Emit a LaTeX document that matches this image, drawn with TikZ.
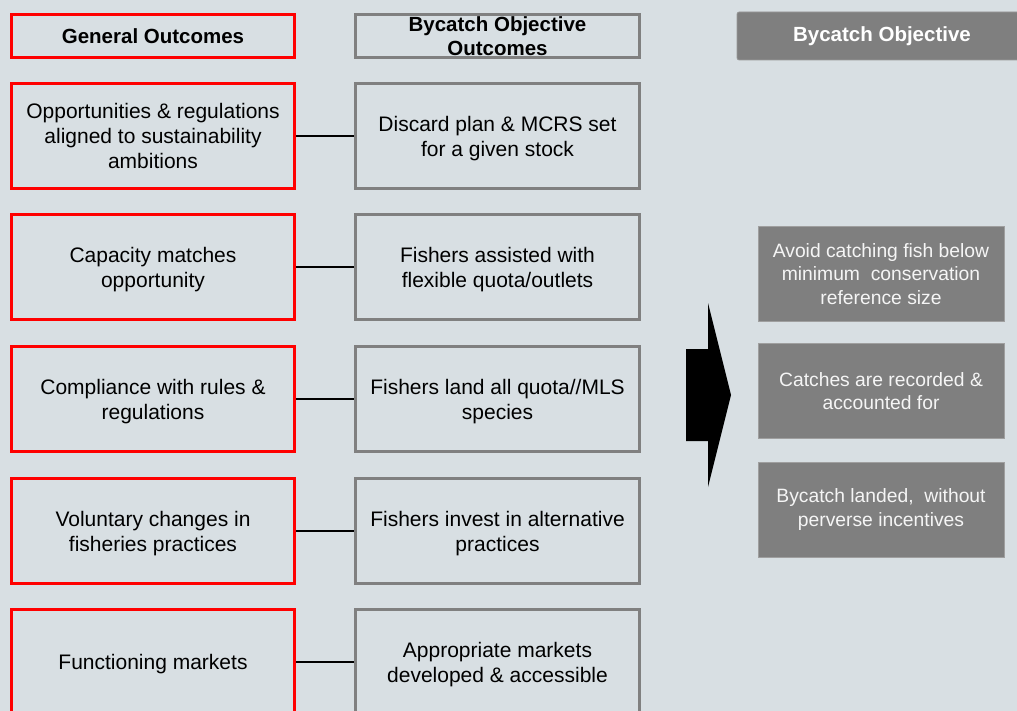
\documentclass[tikz,border=0pt]{standalone}
\usepackage{fontspec}
\setmainfont{Liberation Sans}
\definecolor{bgpanel}{RGB}{216,223,227}
\definecolor{outred}{RGB}{255,0,0}
\definecolor{outgrey}{RGB}{128,128,128}
\definecolor{objfill}{RGB}{127,127,127}
\definecolor{objtext}{RGB}{245,245,245}
\begin{document}
\begin{tikzpicture}[x=1pt,y=-1pt,
  framed/.style={align=center, text=black, line width=3pt, minimum height=105pt, inner sep=0pt},
  genframe/.style={framed, draw=outred, minimum width=283pt},
  objframe/.style={framed, draw=outgrey, minimum width=284pt},
  rowtext/.style={font=\fontsize{21}{25}\selectfont, text depth=0pt},
  headtext/.style={minimum height=43pt, font=\fontsize{20.5}{24}\selectfont\bfseries},
  genbox/.style={genframe, rowtext},
  objbox/.style={objframe, rowtext},
  genhead/.style={genframe, headtext},
  objhead/.style={objframe, headtext},
  tophead/.style={fill=objfill, draw=objfill!80!white, line width=0.6pt, rounded corners=2pt, minimum width=290pt, minimum height=48pt, text=white, font=\fontsize{20.5}{24}\selectfont\bfseries, inner sep=0pt},
  resultbox/.style={fill=objfill, draw=objfill!75!white, line width=0.6pt, minimum width=246pt, minimum height=95pt, text=objtext, align=center, font=\fontsize{19.3}{23.5}\selectfont, inner sep=0pt},
  link/.style={draw=black, line width=1.5pt}]
  \useasboundingbox (0,0) rectangle (1017,711);
  \fill[bgpanel] (0,0) rectangle (1017,711);

  % column headers
  \node[genhead] (genH) at (153,36.5) {General Outcomes};
  \node[objhead] (objH) at (497.5,36) {Bycatch Objective\\Outcomes};
  \node[tophead] (topH) at (882,36) {Bycatch Objective};

  % general outcomes
  \node[genbox] (g1) at (153,136) {Opportunities \& regulations\\aligned to sustainability\\ambitions};
  \node[genbox] (g2) at (153,267) {Capacity matches\\opportunity};
  \node[genbox] (g3) at (153,399) {Compliance with rules \&\\regulations};
  \node[genbox] (g4) at (153,531) {Voluntary changes in\\fisheries practices};
  \node[genbox] (g5) at (153,662) {Functioning markets};

  % bycatch objective outcomes
  \node[objbox] (o1) at (497.5,136) {Discard plan \& MCRS set\\for a given stock};
  \node[objbox] (o2) at (497.5,267) {Fishers assisted with\\flexible quota/outlets};
  \node[objbox] (o3) at (497.5,399) {Fishers land all quota//MLS\\species};
  \node[objbox] (o4) at (497.5,531) {Fishers invest in alternative\\practices};
  \node[objbox] (o5) at (497.5,662) {Appropriate markets\\developed \& accessible};

  % links between the two columns
  \foreach \i in {1,...,5} \draw[link] (g\i.east) -- (o\i.west);

  % block arrow
  \fill[black] (686,349) -- (708,349) -- (708,303) -- (731,395) -- (708,487) -- (708,441) -- (686,441) -- cycle;

  % bycatch objective results
  \node[resultbox] (r1) at (881,274) {Avoid catching fish below\\minimum\ \ conservation\\reference size};
  \node[resultbox] (r2) at (881,391) {Catches are recorded \&\\accounted for};
  \node[resultbox] (r3) at (881,509.5) {Bycatch landed,\ \ without\\perverse incentives};
\end{tikzpicture}
\end{document}
